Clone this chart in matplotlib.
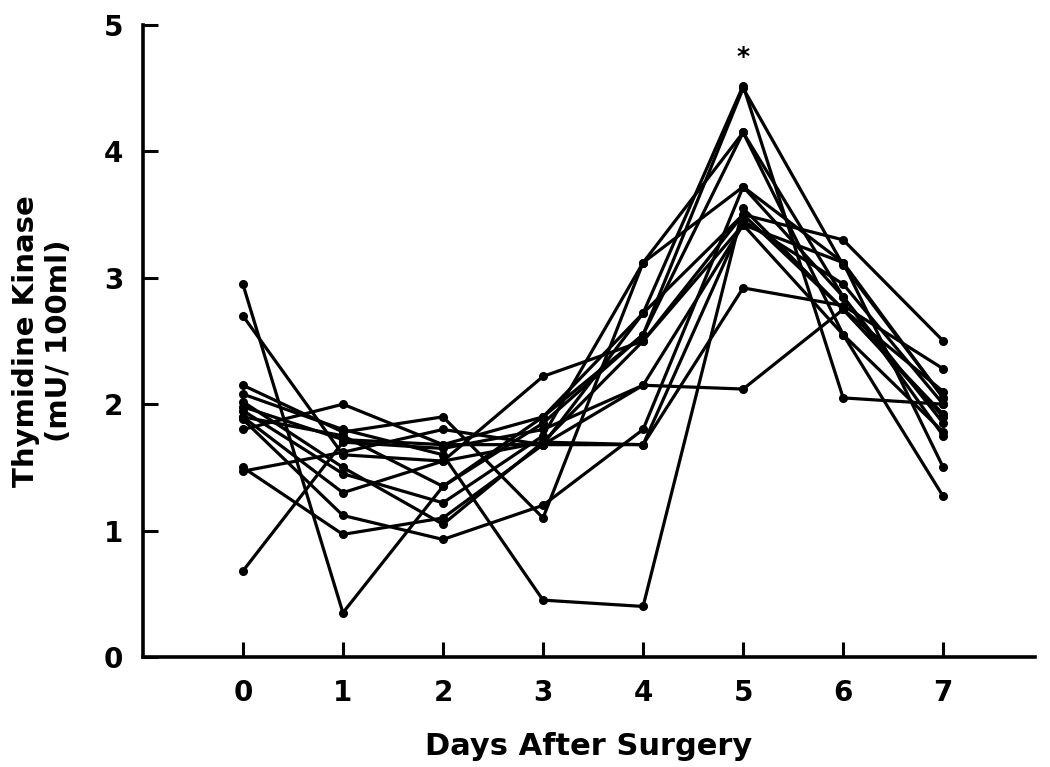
import matplotlib
matplotlib.use("Agg")
import matplotlib.pyplot as plt

days = [0, 1, 2, 3, 4, 5, 6, 7]

# thymidine kinase (mU/100ml), one list per patient
p01 = [2.95, 0.35, 1.35, 1.85, 2.55, 4.50, 3.10, 2.05]
p02 = [2.70, 1.60, 1.55, 1.70, 2.50, 3.50, 3.30, 2.50]
p03 = [0.68, 1.70, 1.65, 1.80, 2.15, 2.12, 2.75, 1.90]
p04 = [2.15, 1.78, 1.90, 1.10, 3.12, 4.15, 2.85, 1.75]
p05 = [2.08, 1.80, 1.60, 0.45, 0.40, 3.55, 2.75, 2.10]
p06 = [2.02, 1.50, 1.05, 1.70, 1.68, 2.92, 2.78, 2.28]
p07 = [1.98, 1.72, 1.68, 1.90, 2.72, 4.52, 2.05, 2.00]
p08 = [1.95, 1.45, 1.22, 1.75, 3.12, 3.72, 3.12, 1.50]
p09 = [1.90, 1.30, 1.55, 2.22, 2.50, 3.42, 2.55, 1.27]
p10 = [1.88, 1.12, 0.93, 1.20, 1.80, 3.72, 2.85, 1.85]
p11 = [1.80, 2.00, 1.68, 1.68, 1.68, 3.45, 2.95, 2.00]
p12 = [1.50, 0.97, 1.10, 1.68, 2.72, 3.50, 2.75, 1.92]
p13 = [1.47, 1.62, 1.80, 1.68, 2.15, 3.42, 3.12, 2.05]
p14 = [1.90, 1.75, 1.35, 1.90, 2.55, 4.15, 2.55, 1.78]
patients = [p01, p02, p03, p04, p05, p06, p07, p08, p09, p10, p11, p12, p13, p14]

sig_day, sig_y = 5, 4.75

fig = plt.figure(figsize=(10.5, 7.67), dpi=100)
ax = fig.add_axes([0.136, 0.1434, 0.85, 0.824])

for vals in patients:
    ax.plot(days, vals, color="black", lw=2.3, marker="o", ms=5.5,
            solid_joinstyle="round")

ax.text(sig_day, sig_y, "*", ha="center", va="center", fontsize=18,
        fontweight="bold")

ax.set_xlim(-1, 7.92)
ax.set_ylim(0, 5)
ax.set_xticks(days)
ax.set_yticks([0, 1, 2, 3, 4, 5])
for s in ["top", "right"]:
    ax.spines[s].set_visible(False)
for s in ["left", "bottom"]:
    ax.spines[s].set_linewidth(2.6)
ax.tick_params(direction="in", length=11, width=2.2, labelsize=20, pad=16)
ax.tick_params(axis="y", pad=14)
for lbl in ax.get_xticklabels() + ax.get_yticklabels():
    lbl.set_fontweight("bold")

ax.set_xlabel("Days After Surgery", fontsize=22, fontweight="bold",
              labelpad=18)
ax.set_ylabel("Thymidine Kinase\n(mU/ 100ml)", fontsize=21, fontweight="bold",
              labelpad=22, linespacing=1.25)

fig.savefig("out.png", dpi=100)
